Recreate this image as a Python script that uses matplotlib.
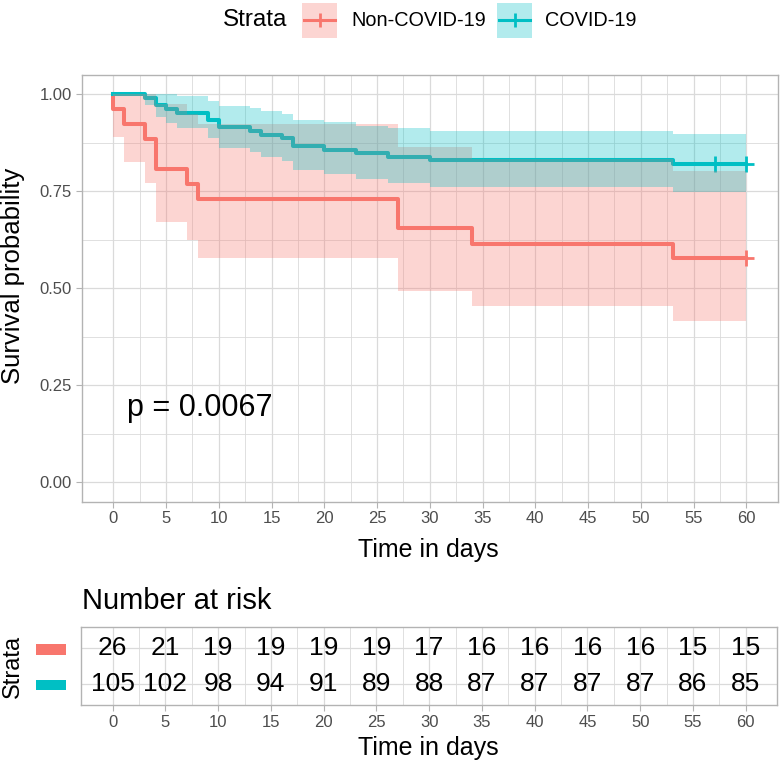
import numpy as np
import matplotlib.pyplot as plt
from matplotlib.patches import Rectangle
from matplotlib.lines import Line2D

plt.rcParams['font.family'] = ['Liberation Sans', 'DejaVu Sans']

# Kaplan-Meier steps (value after each step)
non_time = [0, 0, 1, 3, 4, 7, 8, 27, 34, 53]
non_surv = [1.0, 0.962, 0.923, 0.885, 0.808, 0.769, 0.731, 0.654, 0.615, 0.577]
non_upper = [1.0, 1.0, 1.0, 1.0, 0.974, 0.950, 0.923, 0.865, 0.834, 0.802]
non_lower = [1.0, 0.890, 0.826, 0.770, 0.670, 0.623, 0.579, 0.494, 0.454, 0.415]
non_censor = [60]

cov_time = [0, 3, 4, 5, 6, 9, 10, 13, 14, 16, 17, 20, 23, 26, 30, 53]
cov_surv = [1.0, 0.990, 0.971, 0.962, 0.952, 0.933, 0.914, 0.905, 0.895,
            0.886, 0.867, 0.857, 0.848, 0.838, 0.829, 0.819]
cov_upper = [1.0, 1.0, 1.0, 0.999, 0.994, 0.982, 0.969, 0.963, 0.956,
             0.949, 0.934, 0.927, 0.919, 0.912, 0.904, 0.896]
cov_lower = [1.0, 0.972, 0.940, 0.926, 0.913, 0.887, 0.862, 0.850, 0.839,
             0.827, 0.804, 0.793, 0.782, 0.771, 0.760, 0.749]
cov_censor = [57, 60]

t_end = 60
pval_text = "p = 0.0067"

strata = ["Non-COVID-19", "COVID-19"]
colors = ["#F8766D", "#00BFC4"]

risk_times = [0, 5, 10, 15, 20, 25, 30, 35, 40, 45, 50, 55, 60]
risk_non = [26, 21, 19, 19, 19, 19, 17, 16, 16, 16, 16, 15, 15]
risk_cov = [105, 102, 98, 94, 91, 89, 88, 87, 87, 87, 87, 86, 85]

W, H = 780, 766
fig = plt.figure(figsize=(W / 100, H / 100), dpi=100)


def box(x, y, w, h):
    # pixel box measured from the top-left corner -> figure fraction
    return [x / W, 1 - (y + h) / H, w / W, h / H]


def fx(x):
    return x / W


def fy(y):
    return 1 - y / H


def style(ax):
    for s in ax.spines.values():
        s.set_color('#B3B3B3')
        s.set_linewidth(1.0)
    ax.tick_params(which='major', color='#B3B3B3', length=4.5, width=0.8,
                   labelcolor='#4D4D4D', labelsize=12, pad=2.5)
    ax.tick_params(which='minor', length=0)
    ax.set_axisbelow(True)
    ax.grid(which='major', color='#DADADA', lw=0.9)
    ax.grid(which='minor', color='#DADADA', lw=0.6)


# ---- survival curves
ax = fig.add_axes(box(81.7, 74.7, 696.3, 427))
curves = [
    (non_time, non_surv, non_lower, non_upper, non_censor),
    (cov_time, cov_surv, cov_lower, cov_upper, cov_censor),
]
for (t, s, lo, up, cens), c in zip(curves, colors):
    xs = list(t) + [t_end]
    ax.step(xs, list(s) + [s[-1]], where='post', color=c, lw=2.9, zorder=2)
    cs = [s[np.searchsorted(t, v, side='right') - 1] for v in cens]
    ax.plot(cens, cs, ls='none', marker='+', ms=11, mew=2, color=c, zorder=2)
for (t, s, lo, up, cens), c in zip(curves, colors):
    xs = list(t) + [t_end]
    ax.fill_between(xs, list(lo) + [lo[-1]], list(up) + [up[-1]], step='post',
                    color=c, alpha=0.3, lw=0, zorder=3)

ax.set_xlim(-3, 63)
ax.set_ylim(-0.05, 1.05)
ax.set_xticks(np.arange(0, 61, 5))
ax.set_xticks(np.arange(2.5, 61, 5), minor=True)
ax.set_yticks([0, 0.25, 0.5, 0.75, 1.0])
ax.set_yticklabels(['0.00', '0.25', '0.50', '0.75', '1.00'])
ax.set_yticks([0.125, 0.375, 0.625, 0.875], minor=True)
style(ax)
ax.text(1.3, 0.17, pval_text, fontsize=22, ha='left', va='baseline', zorder=5)

fig.text(fx(13.4), fy(276), "Survival probability", rotation=90,
         ha='center', va='center', fontsize=18.5)
fig.text(fx(428), fy(550), "Time in days", ha='center', va='center', fontsize=18)

# ---- legend at the top
fig.text(fx(223), fy(20), "Strata", ha='left', va='center', fontsize=17.5)
key_x = [302, 497]
lab_x = [351, 545]
for kx, lx, name, c in zip(key_x, lab_x, strata, colors):
    fig.add_artist(Rectangle((fx(kx), fy(37.5)), 35 / W, 35 / H,
                             transform=fig.transFigure, facecolor=c,
                             alpha=0.3, lw=0))
    fig.add_artist(Line2D([fx(kx + 2), fx(kx + 33)], [fy(20), fy(20)],
                          transform=fig.transFigure, color=c, lw=2.2))
    fig.add_artist(Line2D([fx(kx + 17.5)], [fy(20)], transform=fig.transFigure,
                          color=c, marker='+', ms=10, mew=2, ls='none'))
    fig.text(fx(lx), fy(20), name, ha='left', va='center', fontsize=14.3)

# ---- number at risk table
tab = fig.add_axes(box(81, 626.7, 696.3, 78.3))
for row, vals in enumerate([risk_non, risk_cov], start=1):
    for t, v in zip(risk_times, vals):
        tab.text(t, row, str(v), ha='center', va='center', fontsize=19)
tab.set_xlim(-3, 63)
tab.set_ylim(2.6, 0.4)
tab.set_xticks(np.arange(0, 61, 5))
tab.set_xticks(np.arange(2.5, 61, 5), minor=True)
tab.set_yticks([1, 2])
tab.set_yticklabels(['', ''])
style(tab)
tab.tick_params(axis='y', length=0)

for row_y, c in zip([649.3, 685], colors):
    fig.add_artist(Rectangle((fx(36), fy(row_y + 5.3)), 30 / W, 10.6 / H,
                             transform=fig.transFigure, facecolor=c, lw=0))

fig.text(fx(81.7), fy(609.3), "Number at risk", ha='left', va='baseline',
         fontsize=21)
fig.text(fx(13), fy(666), "Strata", rotation=90, ha='center', va='center',
         fontsize=17)
fig.text(fx(428), fy(748), "Time in days", ha='center', va='center', fontsize=18)

fig.savefig("out.png", dpi=100)
